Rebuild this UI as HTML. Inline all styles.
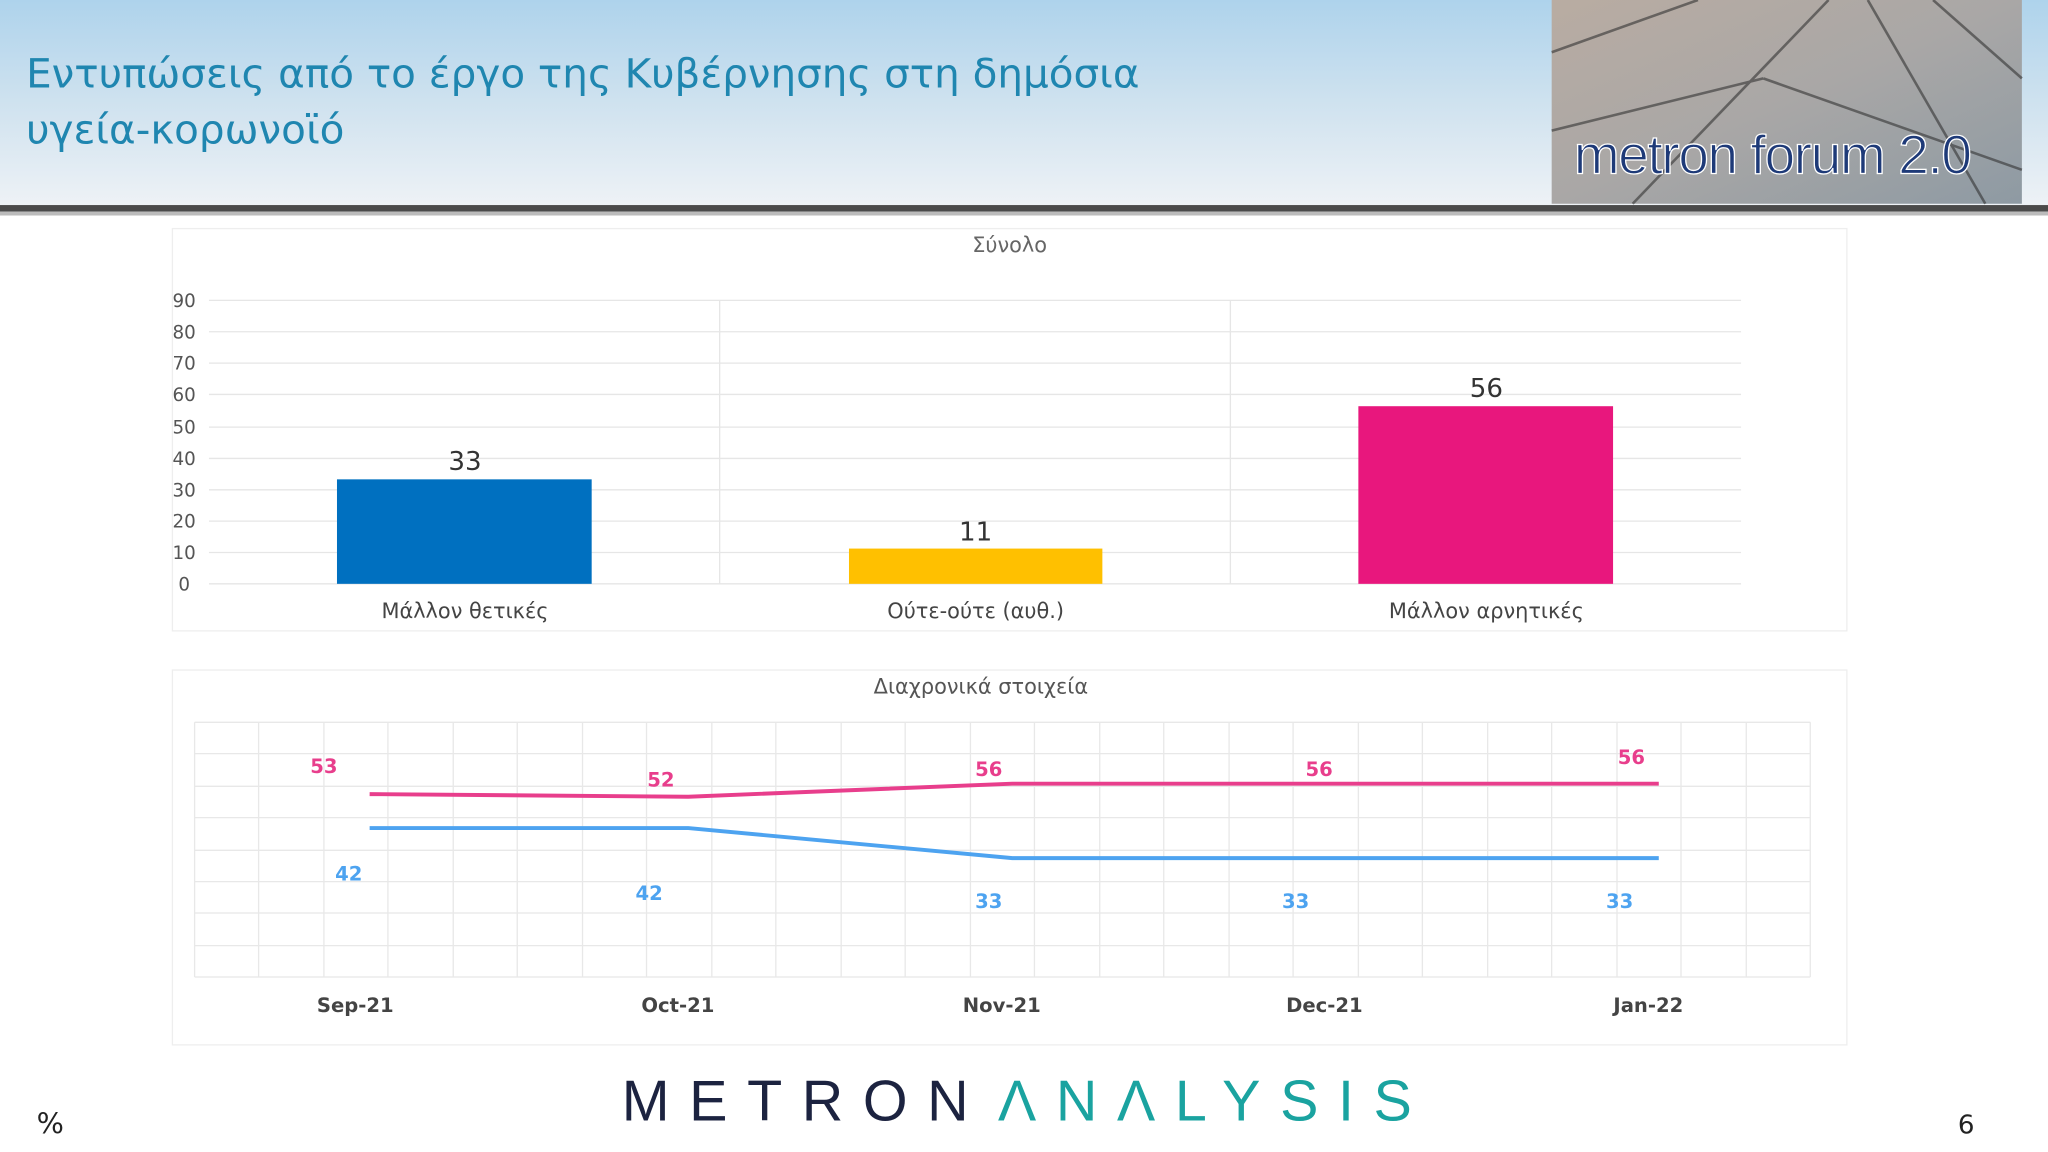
<!DOCTYPE html>
<html><head><meta charset="utf-8"><style>
html,body{margin:0;padding:0;background:#fff;}
svg{display:block;}
</style></head><body>
<svg width="2048" height="1152" viewBox="0 0 1568 882" xmlns="http://www.w3.org/2000/svg" font-family="'DejaVu Sans','Liberation Sans',sans-serif">
<defs>
<linearGradient id="hg" x1="0" y1="0" x2="0" y2="1">
<stop offset="0" stop-color="#aed3ec"/><stop offset="0.5" stop-color="#cfe2ef"/><stop offset="1" stop-color="#eef2f6"/>
</linearGradient>
<linearGradient id="ph" x1="0" y1="0" x2="1" y2="1">
<stop offset="0" stop-color="#b9aca2"/><stop offset="0.5" stop-color="#a9a7a6"/><stop offset="1" stop-color="#8e9aa3"/>
</linearGradient>
</defs>
<rect width="1568" height="882" fill="#fff"/>
<rect x="0" y="0" width="1568" height="158" fill="url(#hg)"/>
<rect x="0" y="157" width="1568" height="5" fill="#4a4a4a"/>
<rect x="0" y="162" width="1568" height="3" fill="#bbb"/>
<text x="20" y="67" font-size="31" fill="#1f86b0" font-family="'DejaVu Sans',sans-serif">Εντυπώσεις από το έργο της Κυβέρνησης στη δημόσια</text>
<text x="20" y="110" font-size="31" fill="#1f86b0" font-family="'DejaVu Sans',sans-serif">υγεία-κορωνοϊό</text>
<rect x="1188" y="0" width="360" height="156" fill="url(#ph)"/>
<g stroke="#333" stroke-width="2" opacity="0.6">
<line x1="1188" y1="40" x2="1300" y2="0"/><line x1="1250" y1="156" x2="1400" y2="0"/>
<line x1="1350" y1="60" x2="1548" y2="130"/><line x1="1430" y1="0" x2="1520" y2="156"/>
<line x1="1188" y1="100" x2="1350" y2="60"/><line x1="1480" y1="0" x2="1548" y2="60"/>
</g>
<text x="1205" y="133" font-size="42" fill="#1e3a78" stroke="#fff" stroke-width="1" font-family="'Liberation Sans',sans-serif" letter-spacing="-1">metron forum 2.0</text>
<rect x="132" y="175" width="1282" height="308" fill="#fff" stroke="#eee"/>
<text x="773" y="193" font-size="16" fill="#666" text-anchor="middle">Σύνολο</text>
<g stroke="#e6e6e6" stroke-width="1">
<line x1="160" y1="447" x2="1333" y2="447"/><line x1="160" y1="423" x2="1333" y2="423"/>
<line x1="160" y1="399" x2="1333" y2="399"/><line x1="160" y1="375" x2="1333" y2="375"/>
<line x1="160" y1="351" x2="1333" y2="351"/><line x1="160" y1="327" x2="1333" y2="327"/>
<line x1="160" y1="302" x2="1333" y2="302"/><line x1="160" y1="278" x2="1333" y2="278"/>
<line x1="160" y1="254" x2="1333" y2="254"/><line x1="160" y1="230" x2="1333" y2="230"/>
<line x1="551" y1="230" x2="551" y2="447"/><line x1="942" y1="230" x2="942" y2="447"/>
</g>
<g font-size="14" fill="#555" text-anchor="middle">
<text x="141" y="452">0</text><text x="141" y="428">10</text><text x="141" y="404">20</text>
<text x="141" y="380">30</text><text x="141" y="356">40</text><text x="141" y="332">50</text>
<text x="141" y="307">60</text><text x="141" y="283">70</text><text x="141" y="259">80</text><text x="141" y="235">90</text>
</g>
<rect x="258" y="367" width="195" height="80" fill="#0070c0"/>
<rect x="650" y="420" width="194" height="27" fill="#ffc000"/>
<rect x="1040" y="311" width="195" height="136" fill="#e8177d"/>
<g font-size="20" fill="#333" text-anchor="middle">
<text x="356" y="360">33</text><text x="747" y="414">11</text><text x="1138" y="304">56</text>
</g>
<g font-size="16" fill="#444" text-anchor="middle">
<text x="356" y="473">Μάλλον θετικές</text><text x="747" y="473">Ούτε-ούτε (αυθ.)</text><text x="1138" y="473">Μάλλον αρνητικές</text>
</g>
<rect x="132" y="513" width="1282" height="287" fill="#fff" stroke="#eee"/>
<text x="751" y="531" font-size="16" fill="#555" text-anchor="middle">Διαχρονικά στοιχεία</text>
<g stroke="#e8e8e8" stroke-width="1">
<line x1="149" y1="553" x2="1386" y2="553"/><line x1="149" y1="577" x2="1386" y2="577"/>
<line x1="149" y1="602" x2="1386" y2="602"/><line x1="149" y1="626" x2="1386" y2="626"/>
<line x1="149" y1="651" x2="1386" y2="651"/><line x1="149" y1="675" x2="1386" y2="675"/>
<line x1="149" y1="699" x2="1386" y2="699"/><line x1="149" y1="724" x2="1386" y2="724"/>
<line x1="149" y1="748" x2="1386" y2="748"/>
<line x1="149" y1="553" x2="149" y2="748"/><line x1="198" y1="553" x2="198" y2="748"/>
<line x1="248" y1="553" x2="248" y2="748"/><line x1="297" y1="553" x2="297" y2="748"/>
<line x1="347" y1="553" x2="347" y2="748"/><line x1="396" y1="553" x2="396" y2="748"/>
<line x1="446" y1="553" x2="446" y2="748"/><line x1="495" y1="553" x2="495" y2="748"/>
<line x1="545" y1="553" x2="545" y2="748"/><line x1="594" y1="553" x2="594" y2="748"/>
<line x1="644" y1="553" x2="644" y2="748"/><line x1="693" y1="553" x2="693" y2="748"/>
<line x1="743" y1="553" x2="743" y2="748"/><line x1="792" y1="553" x2="792" y2="748"/>
<line x1="842" y1="553" x2="842" y2="748"/><line x1="891" y1="553" x2="891" y2="748"/>
<line x1="941" y1="553" x2="941" y2="748"/><line x1="990" y1="553" x2="990" y2="748"/>
<line x1="1040" y1="553" x2="1040" y2="748"/><line x1="1089" y1="553" x2="1089" y2="748"/>
<line x1="1139" y1="553" x2="1139" y2="748"/><line x1="1188" y1="553" x2="1188" y2="748"/>
<line x1="1238" y1="553" x2="1238" y2="748"/><line x1="1287" y1="553" x2="1287" y2="748"/>
<line x1="1337" y1="553" x2="1337" y2="748"/><line x1="1386" y1="553" x2="1386" y2="748"/>
</g>
<polyline points="283,608 527,610 775,600 1020,600 1270,600" fill="none" stroke="#e83e8c" stroke-width="3"/>
<polyline points="283,634 527,634 775,657 1020,657 1270,657" fill="none" stroke="#4da3f0" stroke-width="3"/>
<g font-size="15" font-weight="bold" fill="#e83e8c" text-anchor="middle">
<text x="248" y="592">53</text><text x="506" y="602">52</text><text x="757" y="594">56</text><text x="1010" y="594">56</text><text x="1249" y="585">56</text>
</g>
<g font-size="15" font-weight="bold" fill="#4da3f0" text-anchor="middle">
<text x="267" y="674">42</text><text x="497" y="689">42</text><text x="757" y="695">33</text><text x="992" y="695">33</text><text x="1240" y="695">33</text>
</g>
<g font-size="15" font-weight="bold" fill="#444" text-anchor="middle">
<text x="272" y="775">Sep-21</text><text x="519" y="775">Oct-21</text><text x="767" y="775">Nov-21</text><text x="1014" y="775">Dec-21</text><text x="1262" y="775">Jan-22</text>
</g>
<text x="476" y="858" font-size="44" fill="#1c2340" letter-spacing="15" font-family="'Liberation Sans',sans-serif">METRON</text>
<text x="764" y="858" font-size="44" fill="#1aa3a0" letter-spacing="15" font-family="'Liberation Sans',sans-serif">ΛNΛLYSIS</text>
<text x="28" y="868" font-size="22" fill="#222">%</text>
<text x="1499" y="868" font-size="20" fill="#222">6</text>
</svg>
</body></html>
